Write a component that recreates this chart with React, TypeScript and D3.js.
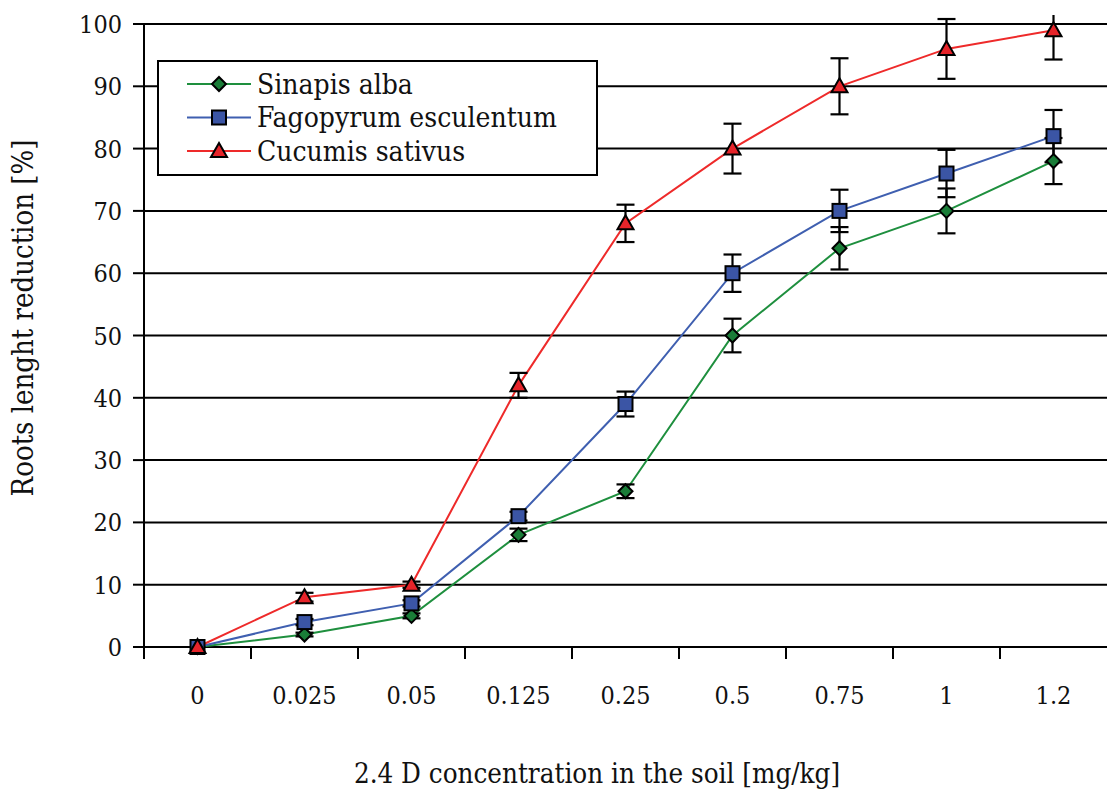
import React from "react";
import * as d3 from "d3";

const categories = ["0", "0.025", "0.05", "0.125", "0.25", "0.5", "0.75", "1", "1.2"];
const sinapisValues = [0, 2, 5, 18, 25, 50, 64, 70, 78];
const sinapisErrors = [0, 0.3, 0.4, 1, 1.1, 2.7, 3.4, 3.6, 3.7];
const fagopyrumValues = [0, 4, 7, 21, 39, 60, 70, 76, 82];
const fagopyrumErrors = [0, 0.5, 0.5, 0.7, 2, 3, 3.4, 3.8, 4.2];
const cucumisValues = [0, 8, 10, 42, 68, 80, 90, 96, 99];
const cucumisErrors = [0, 0.7, 0.5, 2, 3, 4, 4.5, 4.8, 4.7];
const yTicks = [0, 10, 20, 30, 40, 50, 60, 70, 80, 90, 100];

const series = [
  { name: "Sinapis alba", values: sinapisValues, errors: sinapisErrors, line: "#1e8f3e", fill: "#1a7d38", marker: "diamond" },
  { name: "Fagopyrum esculentum", values: fagopyrumValues, errors: fagopyrumErrors, line: "#3f5fb0", fill: "#3b55a5", marker: "square" },
  { name: "Cucumis sativus", values: cucumisValues, errors: cucumisErrors, line: "#ee2a2a", fill: "#e6242a", marker: "triangle" },
];

const W = 1107;
const H = 796;
const left = 144;
const right = 1107;
const top = 24;
const bottom = 647;
const FONT = "DejaVu Serif Condensed, DejaVu Serif, serif";

function Marker({ type, x, y, fill }: { type: string; x: number; y: number; fill: string }) {
  if (type === "square") {
    return <rect x={x - 7} y={y - 7} width={14} height={14} fill={fill} stroke="#000" strokeWidth={2} />;
  }
  if (type === "diamond") {
    return <path d={`M${x},${y - 7}L${x + 7},${y}L${x},${y + 7}L${x - 7},${y}Z`} fill={fill} stroke="#000" strokeWidth={2} />;
  }
  return <path d={`M${x},${y - 8}L${x + 8},${y + 6}L${x - 8},${y + 6}Z`} fill={fill} stroke="#000" strokeWidth={2} strokeLinejoin="miter" />;
}

export default function App() {
  const x = d3.scaleBand<string>().domain(categories).range([left, right]);
  const y = d3.scaleLinear().domain([0, 100]).range([bottom, top]);
  const cx = (c: string) => (x(c) as number) + x.bandwidth() / 2;
  const line = d3
    .line<number>()
    .x((_, i) => cx(categories[i]))
    .y((v) => y(v));

  const tickXs = categories.map((c) => x(c) as number);
  const ts = { fontFamily: FONT };

  return (
    <svg width={W} height={H} style={{ position: "absolute", left: 0, top: 0, background: "#fff" }}>
      <defs>
        <clipPath id="plotclip">
          <rect x={0} y={15} width={W} height={H} />
        </clipPath>
      </defs>
      <rect x={0} y={0} width={W} height={H} fill="#fff" />
      {yTicks.filter((t) => t > 0).map((t) => (
        <line key={t} x1={left} x2={right} y1={y(t)} y2={y(t)} stroke="#000" strokeWidth={2} />
      ))}
      <line x1={left} x2={left} y1={top} y2={bottom + 12} stroke="#000" strokeWidth={2} />
      {yTicks.map((t) => (
        <g key={t}>
          <line x1={left - 11} x2={left} y1={y(t)} y2={y(t)} stroke="#000" strokeWidth={2} />
          <text x={122} y={y(t)} dy="0.36em" textAnchor="end" fontSize={25} fill="#111" style={ts}>
            {t}
          </text>
        </g>
      ))}
      <line x1={left} x2={right} y1={bottom} y2={bottom} stroke="#000" strokeWidth={2} />
      {tickXs.map((tx, i) => (
        <line key={i} x1={tx} x2={tx} y1={bottom} y2={bottom + 12} stroke="#000" strokeWidth={2} />
      ))}
      {categories.map((c) => (
        <text key={c} x={cx(c)} y={704} textAnchor="middle" fontSize={25} fill="#111" style={ts}>
          {c}
        </text>
      ))}
      <text x={597} y={783} textAnchor="middle" fontSize={27.5} fill="#111" style={ts}>
        2.4 D concentration in the soil [mg/kg]
      </text>
      <text transform={`translate(33, 318) rotate(-90)`} textAnchor="middle" fontSize={29} fill="#111" style={ts}>
        Roots lenght reduction [%]
      </text>
      {series.map((s) => (
        <path key={s.name} d={line(s.values) || ""} fill="none" stroke={s.line} strokeWidth={2} />
      ))}
      <g clipPath="url(#plotclip)">
        {series.map((s) =>
          s.values.map((v, i) => {
            const e = s.errors[i];
            if (!e) return null;
            const px = cx(categories[i]);
            const y1 = y(v + e);
            const y2 = y(v - e);
            return (
              <g key={s.name + i} stroke="#000" strokeWidth={2.2}>
                <line x1={px} x2={px} y1={y1} y2={y2} />
                <line x1={px - 9} x2={px + 9} y1={y1} y2={y1} />
                <line x1={px - 9} x2={px + 9} y1={y2} y2={y2} />
              </g>
            );
          })
        )}
      </g>
      {series.map((s) =>
        s.values.map((v, i) => <Marker key={s.name + i} type={s.marker} x={cx(categories[i])} y={y(v)} fill={s.fill} />)
      )}
      <rect x={158} y={61} width={439} height={114} fill="#fff" stroke="#000" strokeWidth={2} />
      {series.map((s, i) => {
        const ly = 84 + i * 33.5;
        return (
          <g key={s.name}>
            <line x1={187} x2={251} y1={ly} y2={ly} stroke={s.line} strokeWidth={2} />
            <Marker type={s.marker} x={219} y={ly} fill={s.fill} />
            <text x={257} y={ly} dy="0.34em" fontSize={28} fill="#111" style={ts}>
              {s.name}
            </text>
          </g>
        );
      })}
    </svg>
  );
}
